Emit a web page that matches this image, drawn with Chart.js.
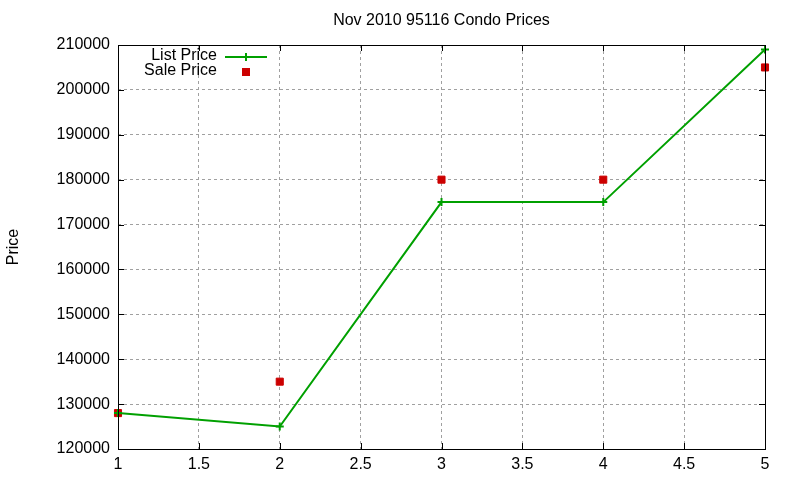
<!DOCTYPE html>
<html>
<head>
<meta charset="utf-8">
<script src="https://cdn.jsdelivr.net/npm/chart.js@4"></script>
<style>
  html, body { margin: 0; padding: 0; background: #fff; }
  #wrap { width: 800px; height: 480px; }
</style>
</head>
<body>
<div id="wrap"><canvas id="priceChart" width="800" height="480"></canvas></div>
<script>
// Data
const chartTitle = 'Nov 2010 95116 Condo Prices';
const xValues = [1, 2, 3, 4, 5];
const listPrice = [128000, 125000, 175000, 175000, 209000];
const salePrice = [128000, 135000, 180000, 180000, 205000];
const xTicks = [1, 1.5, 2, 2.5, 3, 3.5, 4, 4.5, 5];
const yTicks = [120000, 130000, 140000, 150000, 160000, 170000, 180000, 190000, 200000, 210000];

const FONT = '"Liberation Sans", Arial, sans-serif';
const GREEN = '#00a000';
const RED = '#cc0000';

// gnuplot-like frame: border box, inward ticks on all sides, title, key
const gnuplotFrame = {
    id: 'gnuplotFrame',
    afterDatasetsDraw(chart) {
        const ctx = chart.ctx;
        const a = chart.chartArea;
        const xs = chart.scales.x, ys = chart.scales.y;
        const tl = 6;

        ctx.save();
        ctx.strokeStyle = '#000';
        ctx.lineWidth = 1;
        ctx.beginPath();
        xTicks.forEach(v => {
            const px = Math.round(xs.getPixelForValue(v)) + 0.5;
            ctx.moveTo(px, a.bottom); ctx.lineTo(px, a.bottom - tl);
            ctx.moveTo(px, a.top); ctx.lineTo(px, a.top + tl);
        });
        yTicks.forEach(v => {
            const py = Math.round(ys.getPixelForValue(v)) + 0.5;
            ctx.moveTo(a.left, py); ctx.lineTo(a.left + tl, py);
            ctx.moveTo(a.right, py); ctx.lineTo(a.right - tl, py);
        });
        ctx.stroke();
        ctx.strokeRect(Math.round(a.left) + 0.5, Math.round(a.top) + 0.5,
            Math.round(a.right - a.left), Math.round(a.bottom - a.top));

        // title
        ctx.fillStyle = '#000';
        ctx.font = '16px ' + FONT;
        ctx.textAlign = 'center';
        ctx.textBaseline = 'middle';
        ctx.fillText(chartTitle, (a.left + a.right) / 2, 21);

        // key
        const ds = chart.data.datasets;
        ctx.textAlign = 'right';
        ctx.fillText(ds[0].label, 217, 56);
        ctx.fillText(ds[1].label, 217, 71);
        ctx.strokeStyle = GREEN;
        ctx.lineWidth = 2;
        ctx.beginPath();
        ctx.moveTo(225, 57); ctx.lineTo(267, 57);
        ctx.moveTo(246, 53); ctx.lineTo(246, 61);
        ctx.stroke();
        ctx.fillStyle = RED;
        ctx.fillRect(242, 68, 8, 8);
        ctx.restore();
    }
};

new Chart(document.getElementById('priceChart').getContext('2d'), {
    type: 'line',
    data: {
        datasets: [{
            label: 'List Price',
            data: xValues.map((x, i) => ({ x: x, y: listPrice[i] })),
            borderColor: GREEN,
            backgroundColor: GREEN,
            borderWidth: 2,
            pointStyle: 'cross',
            pointRadius: 4,
            pointBorderWidth: 2,
            tension: 0,
            clip: false
        }, {
            label: 'Sale Price',
            data: xValues.map((x, i) => ({ x: x, y: salePrice[i] })),
            showLine: false,
            borderColor: RED,
            backgroundColor: RED,
            pointStyle: 'rect',
            pointRadius: 5,
            pointBorderWidth: 1,
            clip: false
        }]
    },
    options: {
        responsive: false,
        animation: false,
        events: [],
        layout: { padding: { top: 45, right: 35, left: 0, bottom: 0 } },
        plugins: {
            legend: { display: false },
            title: { display: false },
            tooltip: { enabled: false }
        },
        scales: {
            x: {
                type: 'linear',
                min: 1,
                max: 5,
                afterFit: s => { s.height = 31; },
                afterBuildTicks: s => { s.ticks = xTicks.map(v => ({ value: v })); },
                ticks: {
                    color: '#000',
                    padding: 6,
                    font: { family: FONT, size: 16 },
                    callback: v => String(v)
                },
                grid: { color: '#a0a0a0', lineWidth: 1, drawTicks: false },
                border: { display: false, dash: [3, 3] }
            },
            y: {
                min: 120000,
                max: 210000,
                afterFit: s => { s.width = 118; },
                afterBuildTicks: s => { s.ticks = yTicks.map(v => ({ value: v })); },
                ticks: {
                    color: '#000',
                    padding: 8,
                    font: { family: FONT, size: 16 },
                    callback: v => String(v)
                },
                grid: { color: '#a0a0a0', lineWidth: 1, drawTicks: false },
                border: { display: false, dash: [3, 3] },
                title: {
                    display: true,
                    text: 'Price',
                    color: '#000',
                    padding: { top: 4, bottom: 4 },
                    font: { family: FONT, size: 16 }
                }
            }
        }
    },
    plugins: [gnuplotFrame]
});
</script>
</body>
</html>
